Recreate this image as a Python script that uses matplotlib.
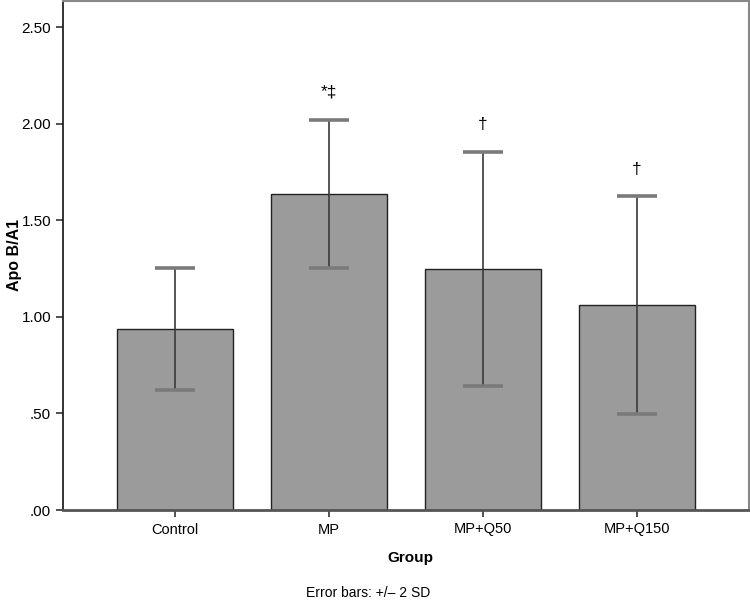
import matplotlib
matplotlib.use("Agg")
import matplotlib.pyplot as plt
import numpy as np

plt.rcParams['font.family'] = ['Liberation Sans', 'DejaVu Sans']

groups = ["Control", "MP", "MP+Q50", "MP+Q150"]
means = [0.937, 1.638, 1.248, 1.060]
err_2sd = [0.318, 0.383, 0.605, 0.565]
marks = ["", "*\u2021", "\u2020", "\u2020"]
mark_y = [None, 2.164, 1.998, 1.765]
yticks = [0.0, 0.5, 1.0, 1.5, 2.0, 2.5]
ytick_labels = [".00", ".50", "1.00", "1.50", "2.00", "2.50"]

fig = plt.figure(figsize=(7.5, 6.02), dpi=100)
ax = fig.add_axes([63/750, 92/602, 686/750, 509/602])

x = np.arange(len(groups))
ax.bar(x, means, width=0.75, color="#9b9b9b", edgecolor="#222222", linewidth=1.0, zorder=2)
eb = ax.errorbar(x, means, yerr=err_2sd, fmt="none", ecolor="#3a3a3a", elinewidth=1.2,
                 capsize=14.4, capthick=2.6, zorder=3)
for cl in eb[1]:
    cl.set_markeredgecolor("#7a7a7a")
    cl.set_markerfacecolor("#7a7a7a")
for xi, m, my in zip(x, marks, mark_y):
    if m:
        ax.text(xi, my, m, ha="center", va="center", fontsize=12.5)

ax.set_xlim(-0.727, 3.727)
ax.set_ylim(0, 2.635)
ax.set_yticks(yticks)
ax.set_yticklabels(ytick_labels, fontsize=11)
ax.set_xticks(x)
ax.set_xticklabels(groups, fontsize=10.5)
ax.tick_params(axis="both", direction="out", length=5, width=1.2, color="#333333")
ax.tick_params(axis="x", pad=4)

for s in ["top", "right"]:
    ax.spines[s].set_color("#888888")
    ax.spines[s].set_linewidth(1.5)
ax.spines["left"].set_color("#111111")
ax.spines["left"].set_linewidth(1.2)
ax.spines["bottom"].set_color("#555555")
ax.spines["bottom"].set_linewidth(2.0)

ax.set_xlabel("Group", fontsize=11, fontweight="bold")
ax.xaxis.set_label_coords((410 - 63) / 686, -(558 - 510) / 509)
ax.xaxis.label.set_verticalalignment("center")
ax.set_ylabel("Apo B/A1", fontsize=11.5, fontweight="bold")
ax.yaxis.set_label_coords(-(63 - 14) / 686, (510 - 255) / 509)
ax.yaxis.label.set_verticalalignment("center")

fig.text(368/750, 1 - 593/602, "Error bars: +/\u2013 2 SD", ha="center", va="center", fontsize=10)

fig.savefig("out.png", dpi=100)
